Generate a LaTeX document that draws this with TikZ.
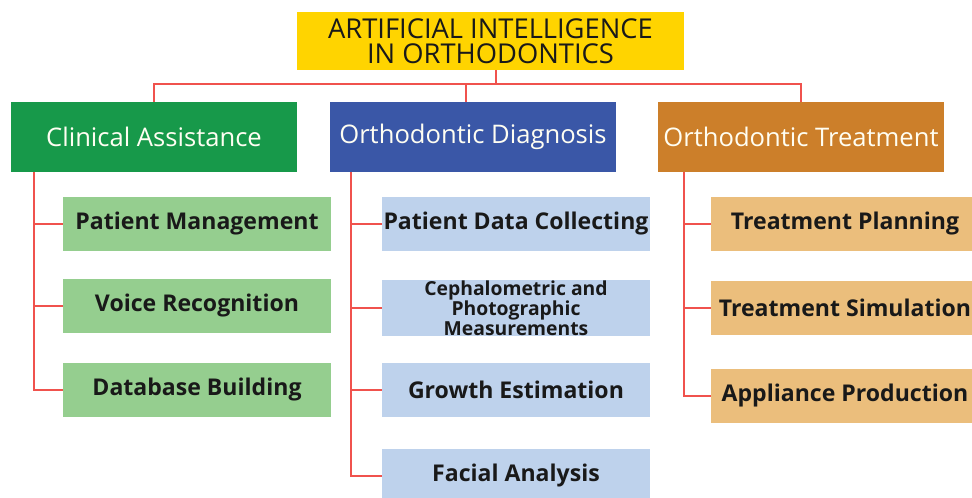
\documentclass[tikz,border=0pt]{standalone}
\usepackage{fontspec}
\setmainfont{Open Sans}
\definecolor{aiyellow}{HTML}{FFD400}
\definecolor{clgreen}{HTML}{17994A}
\definecolor{dgblue}{HTML}{3A57A7}
\definecolor{trorange}{HTML}{CC7F2A}
\definecolor{lgreen}{HTML}{95CE8F}
\definecolor{lblue}{HTML}{BED2EC}
\definecolor{lorange}{HTML}{EBBE7C}
\definecolor{linkred}{HTML}{F0524D}
\tikzset{
  topbox/.style={fill=aiyellow, minimum width=290pt, minimum height=43.5pt, align=center,
    font=\fontsize{20.5}{19}\selectfont, text=black!90},
  headbox/.style={minimum width=214.5pt, minimum height=52.5pt, text=white!95!yellow,
    inner xsep=0pt, font=\fontsize{19.2}{22}\selectfont},
  subbox/.style={minimum width=201pt, minimum height=40.5pt, align=center, text=black!90,
    inner xsep=0pt, font=\bfseries\fontsize{17.3}{19}\selectfont},
  link/.style={linkred, line width=1.5pt}
}
\begin{document}
\begin{tikzpicture}[x=0.75pt,y=-0.75pt]
    \useasboundingbox (0,0) rectangle (972,497);
    %main boxes
    \node [topbox] (ai) at (490.5,41) {ARTIFICIAL INTELLIGENCE\\IN ORTHODONTICS};
    \node [headbox,fill=clgreen] (clin) at (154,137) {Clinical Assistance};
    \node [headbox,fill=dgblue] (diag) at (473,137) {Orthodontic Diagnosis};
    \node [headbox,fill=trorange] (treat) at (801,137) {Orthodontic Treatment};
    %clinical assistance
    \node [subbox,fill=lgreen] (pm) at (197,224) {Patient Management};
    \node [subbox,fill=lgreen] (vr) at (197,306) {Voice Recognition};
    \node [subbox,fill=lgreen] (db) at (197,389.5) {Database Building};
    %orthodontic diagnosis
    \node [subbox,fill=lblue,inner ysep=0pt,font=\bfseries\fontsize{14.5}{12.8}\selectfont] (cpm) at (516,308)
      {Cephalometric and\\Photographic\\Measurements};
    \node [subbox,fill=lblue] (pdc) at (516,224) {Patient Data Collecting};
    \node [subbox,fill=lblue] (ge) at (516,389.5) {Growth Estimation};
    \node [subbox,fill=lblue] (fa) at (516,476) {Facial Analysis};
    %orthodontic treatment
    \node [subbox,fill=lorange] (tp) at (845,224) {Treatment Planning};
    \node [subbox,fill=lorange] (ts) at (845,308) {Treatment Simulation};
    \node [subbox,fill=lorange] (ap) at (845,396) {Appliance Production};
    %draw lines
    \coordinate (bus) at (496,84);
    \coordinate (cl) at (34,172);
    \coordinate (dg) at (351,172);
    \coordinate (tr) at (684,172);
    \draw [link] (ai.south -| bus) -- (bus);
    \draw [link] (clin.north) |- (bus) -| (treat.north);
    \draw [link] (bus -| 466,0) -- (diag.north -| 466,0);
    \draw [link] (cl) |- (db.west);
    \draw [link] (cl |- pm) -- (pm.west);
    \draw [link] (cl |- vr) -- (vr.west);
    \draw [link] (dg) |- (fa.west);
    \draw [link] (dg |- pdc) -- (pdc.west);
    \draw [link] (dg |- cpm) -- (cpm.west);
    \draw [link] (dg |- ge) -- (ge.west);
    \draw [link] (tr) |- (ap.west);
    \draw [link] (tr |- tp) -- (tp.west);
    \draw [link] (tr |- ts) -- (ts.west);
\end{tikzpicture}
\end{document}
